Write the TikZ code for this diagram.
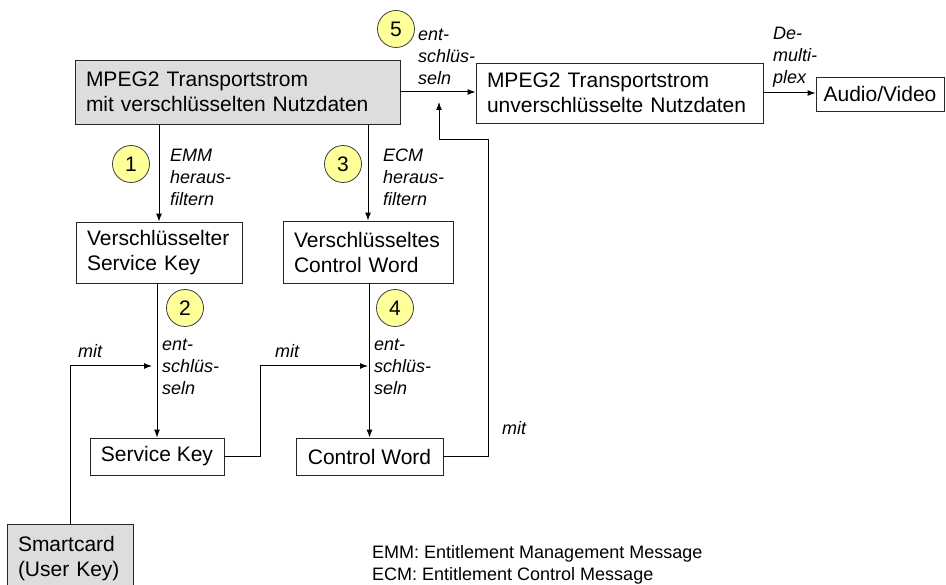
\documentclass[tikz,border=0pt]{standalone}
\usepackage{fontspec}
\setmainfont{Liberation Sans}
\usetikzlibrary{arrows.meta}
\definecolor{boxgrey}{RGB}{221,221,221}
\definecolor{stepyellow}{RGB}{255,255,153}
\begin{document}
\begin{tikzpicture}[x=1pt, y=-1pt,
    box/.style={draw=black!85, line width=0.9pt, align=left, inner xsep=11pt, inner ysep=0pt,
                font=\fontsize{21}{25}\selectfont},
    greybox/.style={box, fill=boxgrey},
    num/.style={circle, draw=black!75, fill=stepyellow, line width=0.8pt, minimum size=37pt,
                inner sep=0pt, font=\fontsize{21}{25}\selectfont},
    lbl/.style={anchor=west, align=left, inner sep=0pt, font=\fontsize{18}{22}\selectfont\itshape},
    arr/.style={line width=1pt, -{Latex[length=8pt,width=6pt]}},
    con/.style={line width=1pt}]
    \useasboundingbox (0,0) rectangle (946,585);

    % Boxen
    \node[greybox, minimum width=325pt, minimum height=64pt, text width=303pt] (enc) at (237.5,92)
        {MPEG2 Transportstrom\\mit verschlüsselten Nutzdaten};
    \node[box, minimum width=287pt, minimum height=60pt, text width=265pt] (dec) at (619.5,93)
        {MPEG2 Transportstrom\\unverschlüsselte Nutzdaten};
    \node[box, minimum width=128pt, minimum height=34pt, inner xsep=7pt] (av) at (880,94) {Audio/Video};
    \node[box, minimum width=166pt, minimum height=61pt, text width=144pt] (vsk) at (159,252.5)
        {Verschlüsselter\\Service Key};
    \node[box, minimum width=170pt, minimum height=62pt, text width=148pt] (vcw) at (368,252)
        {Verschlüsseltes\\Control Word};
    \node[box, minimum width=134pt, minimum height=37pt] (sk) at (157,456.5) {Service Key};
    \node[box, minimum width=147pt, minimum height=37pt] (cw) at (369.5,456.5) {Control Word};
    \node[greybox, minimum width=126pt, minimum height=70pt, text width=104pt] (sc) at (70,559)
        {Smartcard\\(User Key)};

    % Schritte
    \node[num] (n1) at (131,164) {1};
    \node[num] (n2) at (185,308) {2};
    \node[num] (n3) at (343,164) {3};
    \node[num] (n4) at (395,308) {4};
    \node[num] (n5) at (396,29) {5};

    % Beschriftungen
    \node[lbl] (emm) at (170,177) {EMM\\heraus-\\filtern};
    \node[lbl] (ecm) at (383,177) {ECM\\heraus-\\filtern};
    \node[lbl] (ent2) at (162,367) {ent-\\schlüs-\\seln};
    \node[lbl] (ent4) at (374,367) {ent-\\schlüs-\\seln};
    \node[lbl] (ent5) at (418,57) {ent-\\schlüs-\\seln};
    \node[lbl] (demux) at (773,57) {De-\\multi-\\plex};
    \node[lbl] (mit1) at (78,351) {mit};
    \node[lbl] (mit2) at (275,351) {mit};
    \node[lbl] (mit3) at (502,428) {mit};

    % Pfeile
    \coordinate (skin) at (152,366);
    \coordinate (cwin) at (368,366);
    \coordinate (decin) at (439,102);
    \draw[arr] (enc.south -| vsk.north) -- (vsk.north);
    \draw[arr] (enc.south -| vcw.north) -- (vcw.north);
    \draw[arr] (vsk.south -| sk.north) -- (sk.north);
    \draw[arr] (vcw.south -| cw.north) -- (cw.north);
    \draw[arr] (enc.east) -- (enc.east -| dec.west);
    \draw[arr] (dec.east) -- (dec.east -| av.west);
    \draw[arr] (sc.north) |- (skin);
    \draw[arr] (sk.east) -- ++(36,0) |- (cwin);
    \draw[arr] (cw.east) -| (488,140) -| (decin);

    % Legende
    \node[anchor=west, align=left, inner sep=0pt, font=\fontsize{18}{22}\selectfont] (legend) at (372,565)
        {EMM: Entitlement Management Message\\ECM: Entitlement Control Message};
\end{tikzpicture}
\end{document}
